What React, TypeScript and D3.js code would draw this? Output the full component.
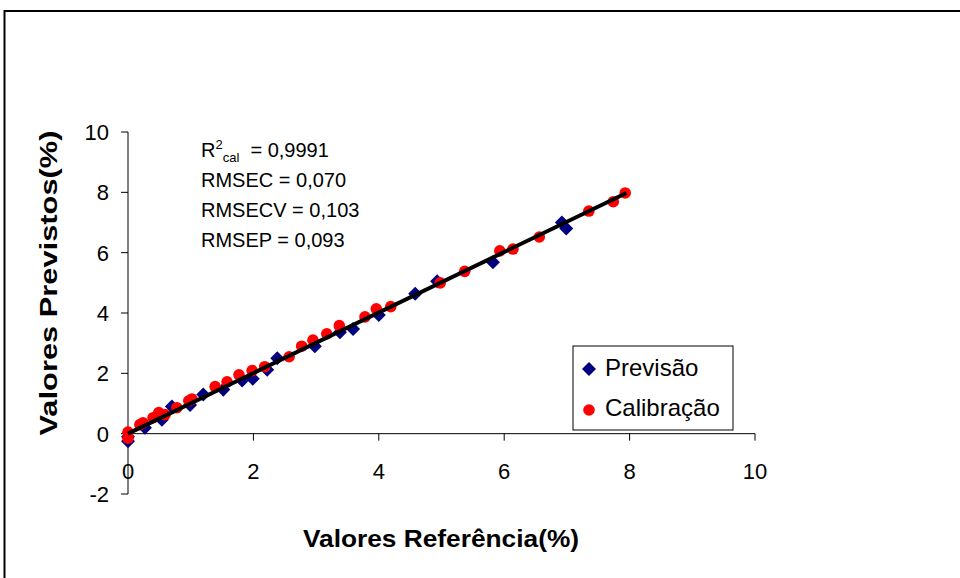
import React from "react";
import * as d3 from "d3";

const calRef = [0, 0, 0.19, 0.24, 0.4, 0.49, 0.59, 0.78, 0.97, 1.02, 1.39, 1.58, 1.77, 1.98, 2.18, 2.57, 2.77, 2.95, 3.17, 3.37, 3.78, 3.96, 4.19, 4.98, 5.37, 5.93, 6.14, 6.56, 7.35, 7.74, 7.93];
const calPred = [0.05, -0.15, 0.3, 0.36, 0.53, 0.7, 0.63, 0.86, 1.09, 1.15, 1.56, 1.72, 1.95, 2.09, 2.22, 2.55, 2.9, 3.1, 3.31, 3.58, 3.87, 4.14, 4.21, 5.0, 5.38, 6.06, 6.12, 6.52, 7.38, 7.69, 7.98];

const prevRef = [0, 0, 0.27, 0.54, 0.7, 0.99, 1.2, 1.52, 1.82, 1.99, 2.22, 2.38, 2.98, 3.38, 3.59, 4.0, 4.58, 4.93, 5.82, 6.92, 6.99];
const prevPred = [-0.25, -0.1, 0.2, 0.46, 0.9, 0.95, 1.3, 1.46, 1.76, 1.82, 2.12, 2.5, 2.9, 3.36, 3.47, 3.93, 4.64, 5.05, 5.68, 7.0, 6.8];

const fitX = [0, 7.95];
const fitY = [0, 7.98];

const xTicks = [0, 2, 4, 6, 8, 10];
const yTicks = [-2, 0, 2, 4, 6, 8, 10];

const statLines = ["RMSEC = 0,070", "RMSECV = 0,103", "RMSEP = 0,093"];
const legendLabels = ["Previsão", "Calibração"];

export default function App() {
  const x = d3.scaleLinear().domain([0, 10]).range([128, 755]);
  const y = d3.scaleLinear().domain([-2, 10]).range([494, 132]);
  const font = "Liberation Sans, Arial, sans-serif";
  const diamond = d3.symbol().type(d3.symbolDiamond2).size(125)();
  const fitLine = d3.line<number>().x((d) => x(d)).y((_, i) => y(fitY[i]));

  return (
    <div style={{ position: "fixed", left: 0, top: 0 }}>
      <svg width={960} height={578} style={{ display: "block", background: "#fff" }} fontFamily={font}>
        <rect x={4.5} y={11} width={980} height={600} fill="#fff" stroke="#000" strokeWidth={2} />
        {/* axes */}
        <line x1={x(0)} x2={x(10)} y1={y(0)} y2={y(0)} stroke="#000" strokeWidth={1} />
        <line x1={x(0)} x2={x(0)} y1={y(-2)} y2={y(10)} stroke="#000" strokeWidth={1} />
        {xTicks.map((t) => (
          <g key={"xt" + t}>
            <line x1={x(t)} x2={x(t)} y1={y(0)} y2={y(0) + 7} stroke="#000" />
            <text x={x(t)} y={479} textAnchor="middle" fontSize={22}>{t}</text>
          </g>
        ))}
        {yTicks.map((t) => (
          <g key={"yt" + t}>
            <line x1={x(0) - 7} x2={x(0)} y1={y(t)} y2={y(t)} stroke="#000" />
            <text x={109} y={y(t) + 8} textAnchor="end" fontSize={22}>{t}</text>
          </g>
        ))}
        {/* points */}
        {prevRef.map((v, i) => (
          <path key={"p" + i} d={diamond} transform={`translate(${x(v)},${y(prevPred[i])})`} fill="#000080" />
        ))}
        {calRef.map((v, i) => (
          <circle key={"c" + i} cx={x(v)} cy={y(calPred[i])} r={5.8} fill="#ff0000" />
        ))}
        <path d={fitLine(fitX) || ""} stroke="#000" strokeWidth={4} fill="none" />
        {/* stats */}
        <text x={201} y={157} fontSize={20}>
          R<tspan dy={-8} fontSize={13}>2</tspan>
          <tspan dy={13} fontSize={13}>cal</tspan>
          <tspan dy={-5}>{" \u00a0= 0,9991"}</tspan>
        </text>
        {statLines.map((s, i) => (
          <text key={s} x={201} y={187 + i * 30} fontSize={20}>{s}</text>
        ))}
        {/* legend */}
        <rect x={573} y={346} width={160} height={84} fill="#fff" stroke="#000" strokeWidth={1} />
        <path d={diamond} transform={`translate(589,369)`} fill="#000080" />
        <circle cx={589} cy={410} r={5.8} fill="#ff0000" />
        <text x={605} y={376} fontSize={24}>{legendLabels[0]}</text>
        <text x={605} y={416} fontSize={24}>{legendLabels[1]}</text>
        {/* axis titles */}
        <text x={441} y={547} textAnchor="middle" fontSize={24} fontWeight="bold" textLength={276} lengthAdjust="spacingAndGlyphs">Valores Referência(%)</text>
        <text transform="translate(57,283) rotate(-90)" textAnchor="middle" fontSize={24} fontWeight="bold" textLength={305} lengthAdjust="spacingAndGlyphs">Valores Previstos(%)</text>
      </svg>
    </div>
  );
}
